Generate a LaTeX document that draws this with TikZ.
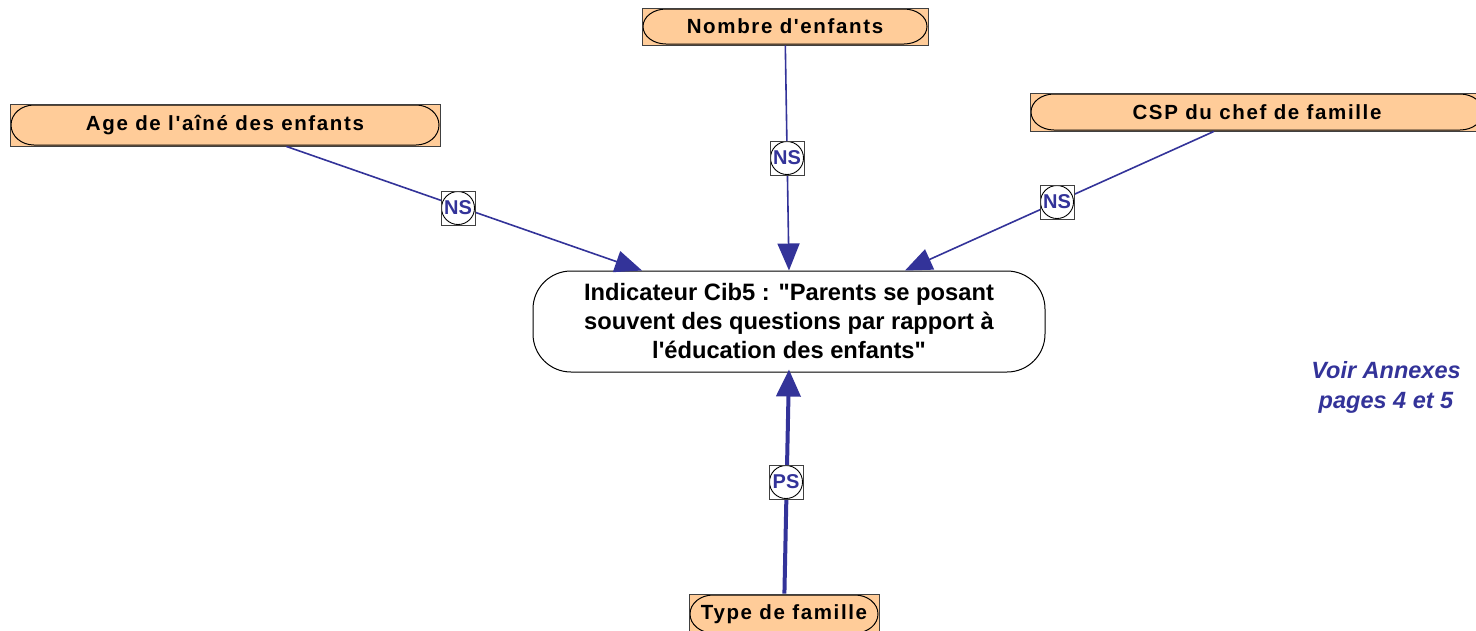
\documentclass[tikz,border=0pt]{standalone}
\usepackage{fontspec}
\setmainfont{Liberation Sans}[Ligatures=TeXOff]
\newfontfamily\spaced{Liberation Sans}[LetterSpace=8,Ligatures=TeXOff]
\usetikzlibrary{arrows.meta,calc}
\definecolor{navy}{HTML}{333399}
\definecolor{peach}{HTML}{FFCC99}
\begin{document}
\begin{tikzpicture}[x=1pt,y=-1pt,
  attr/.style={rectangle, fill=peach, draw=black!75, line width=0.9pt, inner sep=0pt,
    font=\spaced\bfseries\fontsize{20.5}{24}\selectfont,
    path picture={\draw[black, line width=1pt]
      let \p1=(path picture bounding box.south west), \p2=(path picture bounding box.north east),
          \n1={(\y2-\y1)/2-1pt} in
      (\x1+24pt,\y1+1pt) -- (\x2-24pt,\y1+1pt)
      arc[start angle=-90, end angle=90, x radius=23pt, y radius=\n1]
      -- (\x1+24pt,\y2-1pt)
      arc[start angle=90, end angle=270, x radius=23pt, y radius=\n1] -- cycle;}},
  central/.style={rectangle, rounded corners=38pt, draw=black, line width=1pt, fill=white,
    minimum width=512pt, minimum height=101pt, align=center,
    font=\bfseries\fontsize{23.7}{29}\selectfont},
  lab/.style={rectangle, draw=black!75, line width=0.9pt, fill=white, minimum size=34pt, inner sep=0pt,
    text=navy, font=\bfseries\fontsize{20}{22}\selectfont,
    path picture={\draw[black, line width=0.9pt] (path picture bounding box.center) circle (16.5pt);}},
  link/.style={draw=navy, line width=1.6pt, -{Triangle[length=27pt,width=22pt]}},
  strong/.style={draw=navy, line width=4pt, -{Triangle[length=27pt,width=24pt]}},
  note/.style={text=navy, align=center, font=\bfseries\itshape\fontsize{23.5}{30}\selectfont}
]
\useasboundingbox (0,0) rectangle (1476,630);

\node[attr, minimum width=430pt, minimum height=42pt] (age) at (225,125) {Age de l'aîné des enfants};
\node[attr, minimum width=286pt, minimum height=37pt] (nombre) at (785,26.5) {Nombre d'enfants};
\node[attr, minimum width=454pt, minimum height=38pt] (csp) at (1257,112) {CSP du chef de famille};
\node[attr, minimum width=190pt, minimum height=40pt] (type) at (784,614) {Type de famille};

\node[central] (c) at (789,321.5) {Indicateur Cib5 : "Parents se posant\\souvent des questions par rapport à\\l'éducation des enfants"};

\coordinate (tA) at ($(c.north)+(-147,0)$);
\coordinate (tB) at (c.north);
\coordinate (tC) at ($(c.north)+(116,0)$);
\coordinate (tD) at ($(c.south)+(0,-3)$);

\draw[link] (age) -- (tA);
\draw[link] (nombre) -- (tB);
\draw[link] (csp) -- (tC);
\draw[strong] (type) -- (tD);

\node[lab] (l1) at (458,208) {NS};
\node[lab] (l2) at (787,158) {NS};
\node[lab] (l3) at (1057,202) {NS};
\node[lab] (l4) at (786,482) {PS};

\node[note] (voir) at (1386,387) {Voir Annexes\\pages 4 et 5};
\end{tikzpicture}
\end{document}
